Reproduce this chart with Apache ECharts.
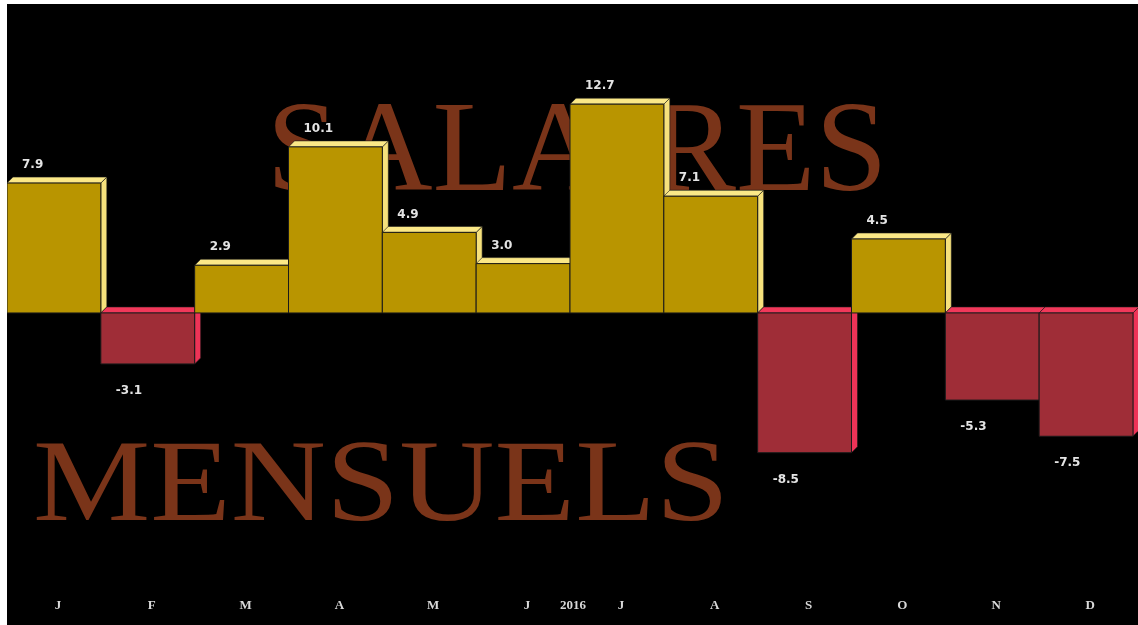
<!DOCTYPE html>
<html>
<head>
<meta charset="utf-8">
<script src="https://cdn.jsdelivr.net/npm/echarts@6/dist/echarts.min.js"></script>
<style>
html,body{margin:0;padding:0;background:#fff;width:1138px;height:625px;overflow:hidden;}
#c{position:absolute;left:7px;top:4px;width:1131px;height:621px;background:#000;}
</style>
</head>
<body>
<div id="c"></div>
<script>
const months = ['J','F','M','A','M','J','J','A','S','O','N','D'];
const values = [7.9, -3.1, 2.9, 10.1, 4.9, 3.0, 12.7, 7.1, -8.5, 4.5, -5.3, -7.5];
const yearLabel = '2016';
const yearAfterIndex = 5;
const titleTop = 'SALAIRES';
const titleBottom = 'MENSUELS';

const chart = echarts.init(document.getElementById('c'), null, {renderer:'canvas'});
const D = 6;
function renderItem(params, api){
  const i = api.value(0), v = api.value(1);
  const p0 = api.coord([i, 0]);
  const p1 = api.coord([i, v]);
  const w = api.size([1, 0])[0];
  const x0 = p0[0] - w/2, x1 = p0[0] + w/2;
  const top = Math.min(p0[1], p1[1]), bot = Math.max(p0[1], p1[1]);
  const pos = v >= 0;
  const front = pos ? '#b99500' : '#9f2d37';
  const face = pos ? '#fbe887' : '#f2385a';
  const side = pos ? '#f6e17c' : '#ee3357';
  return {
    type: 'group',
    children: [
      {type:'polygon', shape:{points:[[x1,top],[x1+D,top-D],[x1+D,bot-D],[x1,bot]]},
        style:{fill:side, stroke:'#1a1a1a', lineWidth:0.6}},
      {type:'polygon', shape:{points:[[x0,top],[x0+D,top-D],[x1+D,top-D],[x1,top]]},
        style:{fill:face, stroke:'#1a1a1a', lineWidth:0.6}},
      {type:'rect', shape:{x:x0, y:top, width:w, height:bot-top},
        style:{fill:front, stroke:'#1a1a1a', lineWidth:1}},
      {type:'text', x: x0 + 13, y: pos ? top - 18 : bot + 27, z2: 10,
        style:{text: v.toFixed(1), fill:'#e4e4e4', fontFamily:'"DejaVu Sans", Verdana, sans-serif', fontWeight:'bold', fontSize:12,
          align:'left', verticalAlign:'middle', backgroundColor:'#000', padding:[1,2]}}
    ]
  };
}

chart.setOption({
  backgroundColor: '#000',
  animation: false,
  grid: {left: 0, right: 5, top: 13, bottom: 49, containLabel: false},
  xAxis: {
    type: 'category', data: months, boundaryGap: true,
    axisLine: {show:false, onZero:false}, axisTick: {show:false}, splitLine:{show:false},
    axisLabel: {color:'#d8d8d8', fontFamily:'"Liberation Serif", serif', fontWeight:'bold', fontSize:13, margin:23, padding:[0,0,0,8]}
  },
  yAxis: {type:'value', min:-16, max:18, show:false, splitLine:{show:false}},
  series: [{
    type: 'custom', renderItem: renderItem, z: 5,
    data: values.map((v, i) => [i, v]),
    encode: {x: 0, y: 1}
  }]
});

const a = chart.convertToPixel({xAxisIndex:0}, yearAfterIndex);
const b = chart.convertToPixel({xAxisIndex:0}, yearAfterIndex + 1);
chart.setOption({
  graphic: [
    {type:'text', x: 570, y: 152, z: 0, silent:true,
      style:{text:titleTop, fill:'#7a3419', fontSize:130, fontFamily:'"Liberation Serif", "DejaVu Serif", serif', align:'center', verticalAlign:'middle'}},
    {type:'text', x: 374, y: 486, scaleX: 1.137, z: 0, silent:true,
      style:{text:titleBottom, fill:'#7a3419', fontSize:116, fontFamily:'"Liberation Serif", "DejaVu Serif", serif', align:'center', verticalAlign:'middle'}},
    {type:'text', x: (a + b)/2 + 3, y: 602, z: 1, silent:true,
      style:{text: yearLabel, fill:'#d8d8d8', fontSize:13, fontWeight:'bold', fontFamily:'"Liberation Serif", serif', align:'center', verticalAlign:'middle'}}
  ]
});
</script>
</body>
</html>
